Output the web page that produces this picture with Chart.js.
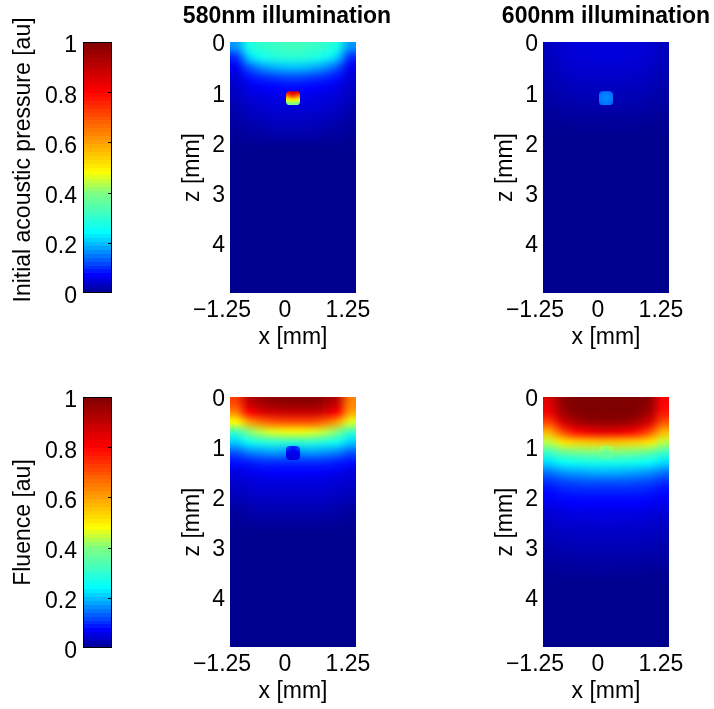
<!DOCTYPE html>
<html>
<head>
<meta charset="utf-8">
<script src="https://cdn.jsdelivr.net/npm/chart.js@4.4.0/dist/chart.umd.min.js"></script>
<style>
  html, body { margin: 0; overflow: hidden; }
  body { width: 714px; height: 709px; background: #fff; position: relative; }
  canvas { position: absolute; }
</style>
</head>
<body>
<canvas id="cbPressure" width="130" height="340" style="left:0;top:-10px"></canvas>
<canvas id="cbFluence" width="130" height="335" style="left:0;top:355px"></canvas>
<canvas id="p580" width="234" height="353" style="left:170px;top:0"></canvas>
<canvas id="p600" width="246" height="353" style="left:483px;top:0"></canvas>
<canvas id="f580" width="234" height="330" style="left:170px;top:377px"></canvas>
<canvas id="f600" width="246" height="330" style="left:483px;top:377px"></canvas>
<script>
// cell centres of the maps [mm]
const xCells = [-1.125, -0.875, -0.625, -0.375, -0.125, 0.125, 0.375, 0.625, 0.875, 1.125];
const zCells = [0.1, 0.3, 0.5, 0.7, 0.9, 1.1, 1.3, 1.5, 1.7, 1.9, 2.1, 2.3, 2.5, 2.7, 2.9,
                3.1, 3.3, 3.5, 3.7, 3.9, 4.1, 4.3, 4.5, 4.7, 4.9];
// the small absorber, finer cells
const spotX = [-0.105, -0.035, 0.035, 0.105];
const spotZ = [1.015, 1.085, 1.155, 1.225];

const xTicks = [-1.25, 0, 1.25];
const xTickLabels = ['\u22121.25', '0', '1.25'];
const zTicks = [0, 1, 2, 3, 4];
const cbTicks = [0, 0.2, 0.4, 0.6, 0.8, 1];
const cbTickLabels = ['0', '0.2', '0.4', '0.6', '0.8', '1'];

// initial acoustic pressure, 580nm
const pressure580 = [
  [0.17, 0.27, 0.30, 0.31, 0.32, 0.32, 0.31, 0.30, 0.27, 0.17],
  [0.10, 0.21, 0.26, 0.28, 0.29, 0.29, 0.28, 0.26, 0.21, 0.10],
  [0.06, 0.13, 0.17, 0.19, 0.20, 0.20, 0.19, 0.17, 0.13, 0.06],
  [0.045, 0.08, 0.10, 0.11, 0.12, 0.12, 0.11, 0.10, 0.08, 0.045],
  [0.035, 0.055, 0.065, 0.07, 0.075, 0.075, 0.07, 0.065, 0.055, 0.035],
  [0.03, 0.045, 0.05, 0.055, 0.06, 0.06, 0.055, 0.05, 0.045, 0.03],
  [0.02, 0.035, 0.04, 0.045, 0.045, 0.045, 0.045, 0.04, 0.035, 0.02],
  [0.015, 0.025, 0.03, 0.035, 0.035, 0.035, 0.035, 0.03, 0.025, 0.015],
  [0.01, 0.015, 0.02, 0.025, 0.025, 0.025, 0.025, 0.02, 0.015, 0.01],
  [0.005, 0.01, 0.01, 0.015, 0.015, 0.015, 0.015, 0.01, 0.01, 0.005],
  [0, 0, 0, 0, 0, 0, 0, 0, 0, 0],
  [0, 0, 0, 0, 0, 0, 0, 0, 0, 0],
  [0, 0, 0, 0, 0, 0, 0, 0, 0, 0],
  [0, 0, 0, 0, 0, 0, 0, 0, 0, 0],
  [0, 0, 0, 0, 0, 0, 0, 0, 0, 0],
  [0, 0, 0, 0, 0, 0, 0, 0, 0, 0],
  [0, 0, 0, 0, 0, 0, 0, 0, 0, 0],
  [0, 0, 0, 0, 0, 0, 0, 0, 0, 0],
  [0, 0, 0, 0, 0, 0, 0, 0, 0, 0],
  [0, 0, 0, 0, 0, 0, 0, 0, 0, 0],
  [0, 0, 0, 0, 0, 0, 0, 0, 0, 0],
  [0, 0, 0, 0, 0, 0, 0, 0, 0, 0],
  [0, 0, 0, 0, 0, 0, 0, 0, 0, 0],
  [0, 0, 0, 0, 0, 0, 0, 0, 0, 0],
  [0, 0, 0, 0, 0, 0, 0, 0, 0, 0]
];
const spotPressure580 = [
  [0.78, 0.86, 0.86, 0.78],
  [0.62, 0.68, 0.68, 0.62],
  [0.47, 0.50, 0.50, 0.47],
  [0.38, 0.40, 0.40, 0.38]
];

// initial acoustic pressure, 600nm
const pressure600 = [
  [0.030, 0.042, 0.046, 0.048, 0.050, 0.050, 0.048, 0.046, 0.042, 0.030],
  [0.028, 0.040, 0.044, 0.046, 0.047, 0.047, 0.046, 0.044, 0.040, 0.028],
  [0.025, 0.035, 0.039, 0.041, 0.042, 0.042, 0.041, 0.039, 0.035, 0.025],
  [0.022, 0.030, 0.034, 0.036, 0.037, 0.037, 0.036, 0.034, 0.030, 0.022],
  [0.018, 0.025, 0.028, 0.030, 0.031, 0.031, 0.030, 0.028, 0.025, 0.018],
  [0.014, 0.020, 0.022, 0.024, 0.025, 0.025, 0.024, 0.022, 0.020, 0.014],
  [0.010, 0.014, 0.016, 0.018, 0.018, 0.018, 0.018, 0.016, 0.014, 0.010],
  [0.005, 0.008, 0.010, 0.010, 0.010, 0.010, 0.010, 0.010, 0.008, 0.005],
  [0.002, 0.003, 0.004, 0.005, 0.005, 0.005, 0.005, 0.004, 0.003, 0.002],
  [0, 0, 0, 0, 0, 0, 0, 0, 0, 0],
  [0, 0, 0, 0, 0, 0, 0, 0, 0, 0],
  [0, 0, 0, 0, 0, 0, 0, 0, 0, 0],
  [0, 0, 0, 0, 0, 0, 0, 0, 0, 0],
  [0, 0, 0, 0, 0, 0, 0, 0, 0, 0],
  [0, 0, 0, 0, 0, 0, 0, 0, 0, 0],
  [0, 0, 0, 0, 0, 0, 0, 0, 0, 0],
  [0, 0, 0, 0, 0, 0, 0, 0, 0, 0],
  [0, 0, 0, 0, 0, 0, 0, 0, 0, 0],
  [0, 0, 0, 0, 0, 0, 0, 0, 0, 0],
  [0, 0, 0, 0, 0, 0, 0, 0, 0, 0],
  [0, 0, 0, 0, 0, 0, 0, 0, 0, 0],
  [0, 0, 0, 0, 0, 0, 0, 0, 0, 0],
  [0, 0, 0, 0, 0, 0, 0, 0, 0, 0],
  [0, 0, 0, 0, 0, 0, 0, 0, 0, 0],
  [0, 0, 0, 0, 0, 0, 0, 0, 0, 0]
];
const spotPressure600 = [
  [0.14, 0.15, 0.15, 0.14],
  [0.15, 0.16, 0.16, 0.15],
  [0.15, 0.16, 0.16, 0.15],
  [0.14, 0.15, 0.15, 0.14]
];

// fluence, 580nm
const fluence580 = [
  [0.72, 0.90, 0.95, 0.97, 0.98, 0.98, 0.98, 0.96, 0.90, 0.64],
  [0.64, 0.80, 0.86, 0.88, 0.89, 0.89, 0.89, 0.87, 0.80, 0.60],
  [0.48, 0.60, 0.66, 0.69, 0.70, 0.70, 0.70, 0.67, 0.60, 0.46],
  [0.32, 0.40, 0.44, 0.46, 0.47, 0.47, 0.46, 0.44, 0.40, 0.31],
  [0.21, 0.26, 0.28, 0.30, 0.30, 0.30, 0.30, 0.28, 0.26, 0.21],
  [0.13, 0.16, 0.17, 0.18, 0.17, 0.17, 0.18, 0.17, 0.16, 0.13],
  [0.08, 0.09, 0.10, 0.10, 0.10, 0.10, 0.10, 0.10, 0.09, 0.08],
  [0.05, 0.06, 0.065, 0.07, 0.07, 0.07, 0.07, 0.065, 0.06, 0.05],
  [0.04, 0.045, 0.05, 0.05, 0.05, 0.05, 0.05, 0.05, 0.045, 0.04],
  [0.03, 0.035, 0.04, 0.04, 0.04, 0.04, 0.04, 0.04, 0.035, 0.03],
  [0.02, 0.025, 0.03, 0.03, 0.03, 0.03, 0.03, 0.03, 0.025, 0.02],
  [0.01, 0.015, 0.02, 0.02, 0.02, 0.02, 0.02, 0.02, 0.015, 0.01],
  [0.005, 0.008, 0.01, 0.01, 0.01, 0.01, 0.01, 0.01, 0.008, 0.005],
  [0, 0, 0, 0, 0, 0, 0, 0, 0, 0],
  [0, 0, 0, 0, 0, 0, 0, 0, 0, 0],
  [0, 0, 0, 0, 0, 0, 0, 0, 0, 0],
  [0, 0, 0, 0, 0, 0, 0, 0, 0, 0],
  [0, 0, 0, 0, 0, 0, 0, 0, 0, 0],
  [0, 0, 0, 0, 0, 0, 0, 0, 0, 0],
  [0, 0, 0, 0, 0, 0, 0, 0, 0, 0],
  [0, 0, 0, 0, 0, 0, 0, 0, 0, 0],
  [0, 0, 0, 0, 0, 0, 0, 0, 0, 0],
  [0, 0, 0, 0, 0, 0, 0, 0, 0, 0],
  [0, 0, 0, 0, 0, 0, 0, 0, 0, 0],
  [0, 0, 0, 0, 0, 0, 0, 0, 0, 0]
];
const spotFluence580 = [
  [0.12, 0.09, 0.09, 0.12],
  [0.08, 0.06, 0.06, 0.08],
  [0.06, 0.05, 0.05, 0.06],
  [0.06, 0.05, 0.05, 0.06]
];

// fluence, 600nm
const fluence600 = [
  [0.85, 0.97, 1.00, 1.00, 1.00, 1.00, 1.00, 1.00, 0.97, 0.80],
  [0.82, 0.94, 0.99, 1.00, 1.00, 1.00, 1.00, 0.99, 0.94, 0.78],
  [0.72, 0.86, 0.93, 0.96, 0.97, 0.97, 0.96, 0.93, 0.86, 0.70],
  [0.58, 0.70, 0.78, 0.82, 0.84, 0.84, 0.82, 0.78, 0.70, 0.57],
  [0.44, 0.51, 0.54, 0.55, 0.56, 0.56, 0.55, 0.54, 0.51, 0.44],
  [0.32, 0.37, 0.39, 0.40, 0.40, 0.40, 0.40, 0.39, 0.37, 0.32],
  [0.22, 0.25, 0.26, 0.27, 0.27, 0.27, 0.27, 0.26, 0.25, 0.22],
  [0.15, 0.17, 0.18, 0.185, 0.19, 0.19, 0.185, 0.18, 0.17, 0.15],
  [0.10, 0.115, 0.12, 0.125, 0.125, 0.125, 0.125, 0.12, 0.115, 0.10],
  [0.075, 0.085, 0.09, 0.09, 0.09, 0.09, 0.09, 0.09, 0.085, 0.075],
  [0.06, 0.065, 0.07, 0.07, 0.07, 0.07, 0.07, 0.07, 0.065, 0.06],
  [0.045, 0.05, 0.055, 0.055, 0.055, 0.055, 0.055, 0.055, 0.05, 0.045],
  [0.035, 0.04, 0.043, 0.043, 0.045, 0.045, 0.043, 0.043, 0.04, 0.035],
  [0.03, 0.032, 0.034, 0.034, 0.035, 0.035, 0.034, 0.034, 0.032, 0.03],
  [0.02, 0.025, 0.027, 0.027, 0.028, 0.028, 0.027, 0.027, 0.025, 0.02],
  [0.015, 0.018, 0.02, 0.02, 0.02, 0.02, 0.02, 0.02, 0.018, 0.015],
  [0.01, 0.012, 0.013, 0.013, 0.014, 0.014, 0.013, 0.013, 0.012, 0.01],
  [0.004, 0.005, 0.007, 0.007, 0.008, 0.008, 0.007, 0.007, 0.005, 0.004],
  [0, 0, 0, 0, 0, 0, 0, 0, 0, 0],
  [0, 0, 0, 0, 0, 0, 0, 0, 0, 0],
  [0, 0, 0, 0, 0, 0, 0, 0, 0, 0],
  [0, 0, 0, 0, 0, 0, 0, 0, 0, 0],
  [0, 0, 0, 0, 0, 0, 0, 0, 0, 0],
  [0, 0, 0, 0, 0, 0, 0, 0, 0, 0],
  [0, 0, 0, 0, 0, 0, 0, 0, 0, 0]
];
const spotFluence600 = [
  [0.44, 0.42, 0.42, 0.44],
  [0.40, 0.38, 0.38, 0.40],
  [0.37, 0.36, 0.36, 0.37],
  [0.34, 0.33, 0.33, 0.34]
];

Chart.defaults.font.family = "'Liberation Sans', Arial, sans-serif";
Chart.defaults.font.size = 23;
Chart.defaults.color = '#000';

// jet-like colour map
const jetStops = [
  [0, [0, 0, 143]], [0.07, [0, 0, 255]], [0.24, [0, 255, 255]], [0.40, [128, 255, 128]],
  [0.48, [255, 255, 0]], [0.80, [255, 0, 0]], [1, [128, 0, 0]]
];
function jet(v) {
  v = Math.max(0, Math.min(1, v));
  for (let i = 1; i < jetStops.length; i++) {
    const [b, cb] = jetStops[i];
    if (v <= b) {
      const [a, ca] = jetStops[i - 1];
      const t = (v - a) / (b - a);
      return ca.map((c, k) => Math.round(c + (cb[k] - c) * t));
    }
  }
  return jetStops[jetStops.length - 1][1];
}

function paintGrid(ctx, values, xs, zs, xScale, yScale) {
  const rows = values.length, cols = values[0].length;
  const off = document.createElement('canvas');
  off.width = cols; off.height = rows;
  const octx = off.getContext('2d');
  const img = octx.createImageData(cols, rows);
  values.forEach((row, r) => row.forEach((v, c) => {
    const rgb = jet(v), k = (r * cols + c) * 4;
    img.data[k] = rgb[0]; img.data[k + 1] = rgb[1]; img.data[k + 2] = rgb[2]; img.data[k + 3] = 255;
  }));
  octx.putImageData(img, 0, 0);
  const dx = (xs[1] - xs[0]) / 2, dz = (zs[1] - zs[0]) / 2;
  const left = xScale.getPixelForValue(xs[0] - dx), right = xScale.getPixelForValue(xs[cols - 1] + dx);
  const top = yScale.getPixelForValue(zs[0] - dz), bottom = yScale.getPixelForValue(zs[rows - 1] + dz);
  ctx.imageSmoothingEnabled = true;
  ctx.imageSmoothingQuality = 'high';
  ctx.drawImage(off, left, top, right - left, bottom - top);
}

function heatLayer(values, spot) {
  return {
    id: 'heat',
    beforeDatasetsDraw(chart) {
      const { ctx, chartArea, scales: { x, y } } = chart;
      ctx.save();
      ctx.beginPath();
      ctx.rect(chartArea.left, chartArea.top, chartArea.width, chartArea.height);
      ctx.clip();
      paintGrid(ctx, values, xCells, zCells, x, y);
      // absorber: clip to its rounded outline first
      const l = x.getPixelForValue(spotX[0] - 0.035), r = x.getPixelForValue(spotX[3] + 0.035);
      const t = y.getPixelForValue(spotZ[0] - 0.035), b = y.getPixelForValue(spotZ[3] + 0.035);
      ctx.beginPath();
      ctx.roundRect(l, t, r - l, b - t, 4);
      ctx.clip();
      paintGrid(ctx, spot, spotX, spotZ, x, y);
      ctx.restore();
    }
  };
}

function heatChart(id, values, spot, title, rightGap) {
  return new Chart(document.getElementById(id), {
    type: 'scatter',
    data: { datasets: [] },
    options: {
      responsive: false,
      animation: false,
      layout: { padding: { top: title ? 0 : 20 } },
      plugins: {
        legend: { display: false },
        tooltip: { enabled: false },
        title: {
          display: !!title, text: title,
          font: { size: 23, weight: 'bold' },
          padding: { top: 3.2, bottom: 11.2 }
        }
      },
      scales: {
        x: {
          type: 'linear', min: -1.25, max: 1.25,
          afterBuildTicks: s => { s.ticks = xTicks.map(v => ({ value: v })); },
          ticks: { callback: (v, i) => xTickLabels[i], labelOffset: -8, padding: 4, maxRotation: 0, autoSkip: false },
          grid: { display: false, drawTicks: false },
          border: { display: false },
          title: { display: true, text: 'x [mm]', padding: { top: 0, bottom: 1.2 } },
          afterFit: s => { s.height = 60; }
        },
        y: {
          type: 'linear', reverse: true, min: 0, max: 5,
          afterBuildTicks: s => { s.ticks = zTicks.map(v => ({ value: v })); },
          ticks: { callback: v => String(v), labelOffset: 3, padding: 5, autoSkip: false },
          grid: { display: false, drawTicks: false },
          border: { display: false },
          title: { display: true, text: 'z [mm]', padding: { top: 9.2, bottom: 0 } },
          afterFit: s => { s.width = 60; }
        },
        gap: {
          type: 'linear', axis: 'y', position: 'right', min: 0, max: 1,
          ticks: { display: false },
          grid: { display: false, drawTicks: false },
          border: { display: false },
          afterFit: s => { s.width = rightGap; }
        }
      }
    },
    plugins: [heatLayer(values, spot)]
  });
}

const colorbarLayer = {
  id: 'colorbar',
  beforeDatasetsDraw(chart) {
    const { ctx, scales: { x, y } } = chart;
    const left = x.getPixelForValue(0), right = x.getPixelForValue(1);
    const n = 64;
    ctx.save();
    for (let i = 0; i < n; i++) {
      const rgb = jet((i + 0.5) / n);
      const yTop = Math.round(y.getPixelForValue((i + 1) / n));
      const yBot = Math.round(y.getPixelForValue(i / n));
      ctx.fillStyle = 'rgb(' + rgb.join(',') + ')';
      ctx.fillRect(left, yTop, right - left, yBot - yTop);
    }
    const top = y.getPixelForValue(1), bottom = y.getPixelForValue(0);
    ctx.strokeStyle = '#000';
    ctx.lineWidth = 1;
    ctx.strokeRect(Math.round(left) + 0.5, Math.round(top) + 0.5, Math.round(right - left) - 1, Math.round(bottom - top) - 1);
    ctx.beginPath();
    cbTicks.slice(1, -1).forEach(v => {
      const p = Math.round(y.getPixelForValue(v)) + 0.5;
      ctx.moveTo(right - 4, p); ctx.lineTo(right, p);
    });
    ctx.stroke();
    ctx.restore();
  }
};

// lo/hi stretch the scale beyond 0..1 so the long label fits; padding keeps 0..1 on the bar
function colorbarChart(id, label, lo, hi, padTop, padBottom) {
  return new Chart(document.getElementById(id), {
    type: 'scatter',
    data: { datasets: [] },
    options: {
      responsive: false,
      animation: false,
      layout: { padding: { top: padTop, bottom: padBottom, right: 18 } },
      plugins: { legend: { display: false }, tooltip: { enabled: false } },
      scales: {
        x: { type: 'linear', display: false, min: 0, max: 1 },
        y: {
          type: 'linear', min: lo, max: hi,
          afterBuildTicks: s => { s.ticks = cbTicks.map(v => ({ value: v })); },
          ticks: { callback: (v, i) => cbTickLabels[i], labelOffset: 4, padding: 6, autoSkip: false },
          grid: { display: false, drawTicks: false },
          border: { display: false },
          title: { display: true, text: label, padding: { top: 10.2, bottom: 0 } },
          afterFit: s => { s.width = 83; }
        }
      }
    },
    plugins: [colorbarLayer]
  });
}

colorbarChart('cbPressure', 'Initial acoustic pressure [au]', -0.05, 1.11, 24.39, 24.45);
colorbarChart('cbFluence', 'Fluence [au]', -0.08, 1.08, 21.92, 21.92);
heatChart('p580', pressure580, spotPressure580, '580nm illumination', 48);
heatChart('p600', pressure600, spotPressure600, '600nm illumination', 60);
heatChart('f580', fluence580, spotFluence580, '', 48);
heatChart('f600', fluence600, spotFluence600, '', 60);
</script>
</body>
</html>
